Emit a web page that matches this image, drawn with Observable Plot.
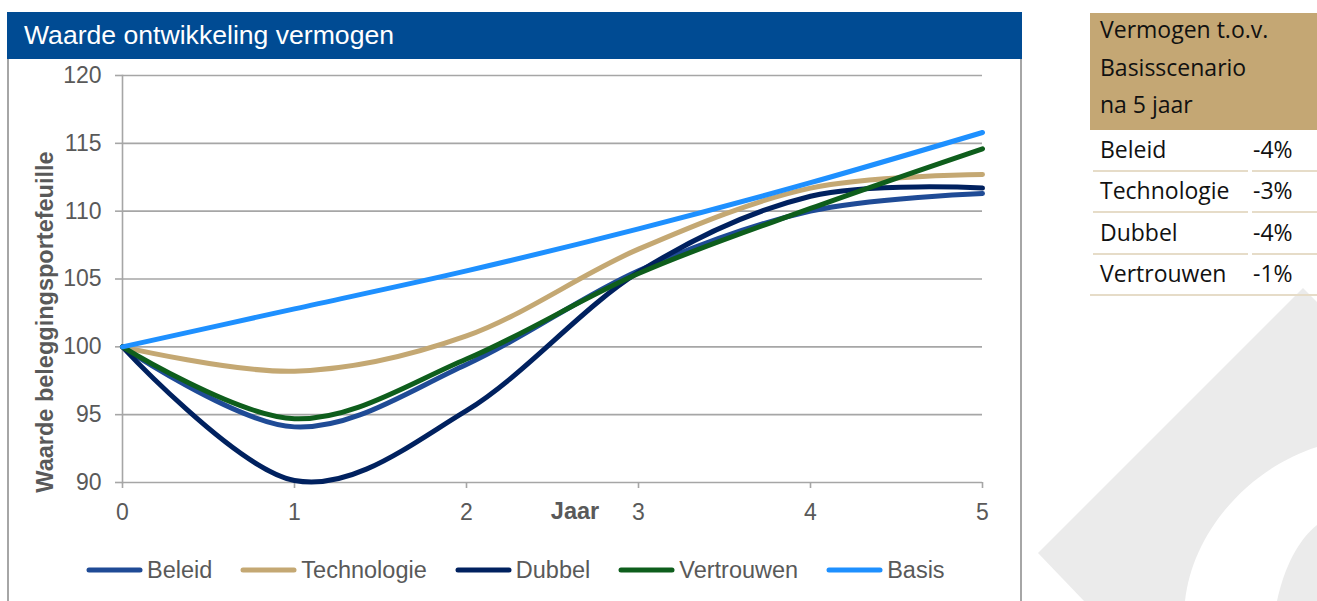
<!DOCTYPE html>
<html>
<head>
<meta charset="utf-8">
<script src="https://cdn.jsdelivr.net/npm/d3@7"></script>
<script src="https://cdn.jsdelivr.net/npm/@observablehq/plot@0.6"></script>
<style>
  html, body { margin: 0; padding: 0; background: #fff; }
  body { width: 1317px; height: 601px; position: relative; overflow: hidden; font-family: "Liberation Sans", Arial, sans-serif; }
  #watermark { position: absolute; left: 0; top: 0; }
  #titlebar { position: absolute; left: 7px; top: 12px; width: 1015px; height: 47px; background: #004b93; color: #fff; font-size: 26.6px; }
  #titlebar span { position: absolute; left: 17px; top: 8px; line-height: 30px; white-space: nowrap; }
  .border { position: absolute; top: 59px; width: 2px; height: 542px; background: #a6a6a6; }
  #chart { position: absolute; left: 0; top: 59px; }
  #ylabel { position: absolute; left: 45px; top: 322px; transform: translate(-50%, -50%) rotate(-90deg); white-space: nowrap; font-weight: bold; font-size: 23.5px; color: #595959; }
  #xlabel { position: absolute; left: 575px; top: 498px; transform: translateX(-50%); font-weight: bold; font-size: 23.5px; color: #595959; line-height: 1.117; }
  #legend { position: absolute; left: 86px; top: 557px; height: 26px; display: flex; align-items: center; gap: 28px; font-size: 23.5px; color: #595959; }
  #legend .item { display: flex; align-items: center; }
  #legend svg { margin-right: 4px; }
  #table { position: absolute; left: 0; top: 0; font-family: "Open Sans", "Noto Sans", sans-serif; font-size: 23px; color: #111; }
  #thead { position: absolute; left: 1090px; top: 13px; width: 227px; height: 117px; background: #c4a774; }
  #theadtext { position: absolute; left: 1100px; top: 11px; line-height: 37.5px; white-space: nowrap; }
  .cell { position: absolute; height: 41px; line-height: 37px; white-space: nowrap; box-sizing: border-box; border-bottom: 2px solid #e6dcc8; }
</style>
</head>
<body>
<svg id="watermark" width="1317" height="601">
  <path d="M1303,288 L1317,302 L1317,601 L1084,601 L1038,553 Z" fill="#ebebeb"/>
  <path d="M1185,601 C1192,535 1245,470 1317,447 L1317,601 Z" fill="#fff"/>
  <path d="M1277,601 C1284,568 1298,540 1317,525 L1317,601 Z" fill="#ebebeb"/>
</svg>
<div id="titlebar"><span>Waarde ontwikkeling vermogen</span></div>
<div class="border" style="left:7px"></div>
<div class="border" style="left:1020px"></div>
<div id="chart"></div>
<div id="ylabel">Waarde beleggingsportefeuille</div>
<div id="xlabel">Jaar</div>
<div id="legend"></div>
<div id="table"></div>
<script>
// ---- data ----
const years = [0, 1, 2, 3, 4, 5];
const yTicks = [90, 95, 100, 105, 110, 115, 120];
const seriesNames = ["Beleid", "Technologie", "Dubbel", "Vertrouwen", "Basis"];
const seriesColors = ["#1f4b96", "#c4a873", "#00215f", "#0e5e1c", "#1e90ff"];
const beleid      = [100, 94.1, 98.7, 105.6, 110.0, 111.3];
const technologie = [100, 98.2, 100.8, 107.2, 111.7, 112.7];
const dubbel      = [100, 90.15, 95.3, 105.5, 111.1, 111.7];
const vertrouwen  = [100, 94.7, 99.1, 105.4, 110.2, 114.6];
const basis       = [100, 102.8, 105.6, 108.7, 112.1, 115.8];
const tableTitle = ["Vermogen t.o.v.", "Basisscenario", "na 5 jaar"];
const tableRows = ["Beleid", "Technologie", "Dubbel", "Vertrouwen"];
const tableValues = ["-4%", "-3%", "-4%", "-1%"];

const seriesValues = [beleid, technologie, dubbel, vertrouwen, basis];
const gridColor = "#a6a6a6";

const lineMarks = seriesValues.map((vals, i) =>
  Plot.line(years.map((yr, j) => ({year: yr, value: vals[j]})), {
    x: "year", y: "value", stroke: seriesColors[i], strokeWidth: 5,
    curve: "cardinal", tension: 0, strokeLinecap: "round", strokeLinejoin: "round"
  })
);

const chart = Plot.plot({
  width: 1022, height: 470,
  marginLeft: 122, marginRight: 40, marginTop: 16, marginBottom: 47,
  x: {domain: [0, 5], ticks: years, tickFormat: d3.format("d")},
  y: {domain: [90, 120], ticks: yTicks},
  style: {fontFamily: "'Liberation Sans', Arial, sans-serif", fontSize: "23px", color: "#595959", background: "transparent", overflow: "visible"},
  marks: [
    Plot.ruleY(yTicks, {stroke: gridColor, strokeWidth: 1.6}),
    Plot.frame({anchor: "left", stroke: gridColor, strokeWidth: 1.6}),
    Plot.axisY({ticks: yTicks, tickSize: 7, tickPadding: 14, stroke: gridColor, strokeWidth: 1.6, fill: "#595959", label: null}),
    Plot.axisX({ticks: years, tickFormat: d3.format("d"), tickSize: 6, tickPadding: 15, stroke: gridColor, strokeWidth: 1.6, fill: "#595959", label: null}),
    ...lineMarks
  ]
});
document.getElementById("chart").appendChild(chart);

// ---- legend ----
const legend = document.getElementById("legend");
seriesNames.forEach((name, i) => {
  const item = document.createElement("div");
  item.className = "item";
  item.innerHTML = `<svg width="57" height="10"><line x1="3" y1="5" x2="54" y2="5" stroke="${seriesColors[i]}" stroke-width="5" stroke-linecap="round"/></svg><span>${name}</span>`;
  legend.appendChild(item);
});

// ---- table ----
const table = document.getElementById("table");
table.innerHTML = `<div id="thead"></div><div id="theadtext">${tableTitle.join("<br>")}</div>`;
tableRows.forEach((name, i) => {
  const top = 131 + i * 41.3;
  const last = i === tableRows.length - 1;
  const c1 = document.createElement("div");
  c1.className = "cell";
  c1.style.cssText = `left:${last ? 1090 : 1093}px; top:${top}px; width:${last ? 162 : 155}px; padding-left:${last ? 10 : 7}px;`;
  c1.textContent = name;
  const c2 = document.createElement("div");
  c2.className = "cell";
  c2.style.cssText = `left:1252px; top:${top}px; width:65px; padding-left:1px;`;
  c2.textContent = tableValues[i];
  table.appendChild(c1);
  table.appendChild(c2);
});
</script>
</body>
</html>
